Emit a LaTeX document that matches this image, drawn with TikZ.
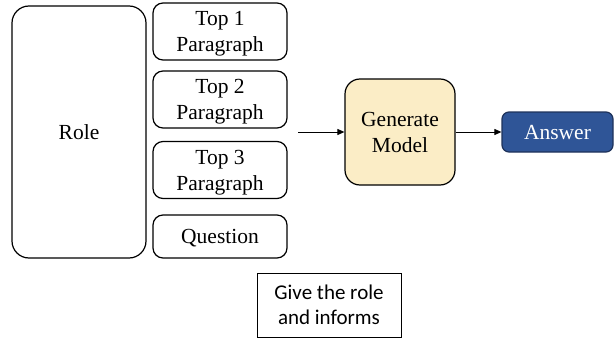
\documentclass[tikz,border=0pt]{standalone}
\usepackage{fontspec}
\setmainfont{Liberation Serif}
\newfontfamily\tms{Liberation Serif}
\newfontfamily\calib{Carlito}
\usetikzlibrary{arrows.meta}
\begin{document}
\begin{tikzpicture}[x=1pt,y=-1pt,
  box/.style={draw=black,line width=1.2pt,rounded corners=10pt,align=center,inner sep=0pt,
    text depth=0pt,minimum width=134pt,font=\tms\fontsize{21.5}{26}\selectfont},
  conn/.style={line width=0.9pt,-{Triangle[length=7pt,width=6pt]}}]
\useasboundingbox (0,0) rectangle (614,340);
\node[box,rounded corners=17pt,minimum height=252pt] (role) at (79,132) {Role};
\node[box,minimum height=57pt] (top1) at (220,31.5) {Top 1\\Paragraph};
\node[box,minimum height=57pt] (top2) at (220,99.5) {Top 2\\Paragraph};
\node[box,minimum height=57pt] (top3) at (220,170) {Top 3\\Paragraph};
\node[box,minimum height=43pt] (q) at (220,236.5) {Question};
\node[box,rounded corners=15pt,minimum width=110pt,minimum height=106pt,fill={rgb,255:red,251;green,237;blue,198}] (gen) at (400,132) {Generate\\Model};
\node[box,rounded corners=7pt,minimum width=111pt,minimum height=40pt,fill={rgb,255:red,47;green,85;blue,151},draw={rgb,255:red,30;green,50;blue,90},text=white] (ans) at (557.5,132) {Answer};
\node[draw=black,line width=1pt,minimum width=144pt,minimum height=64pt,align=center,inner sep=0pt,text depth=-5pt,font=\calib\fontsize{21}{25}\selectfont] (give) at (329,305) {Give the role\\and informs};
\coordinate (start) at (298,132);
\draw[conn] (start) -- (gen.west);
\draw[conn] (gen.east) -- (ans.west);
\end{tikzpicture}
\end{document}
